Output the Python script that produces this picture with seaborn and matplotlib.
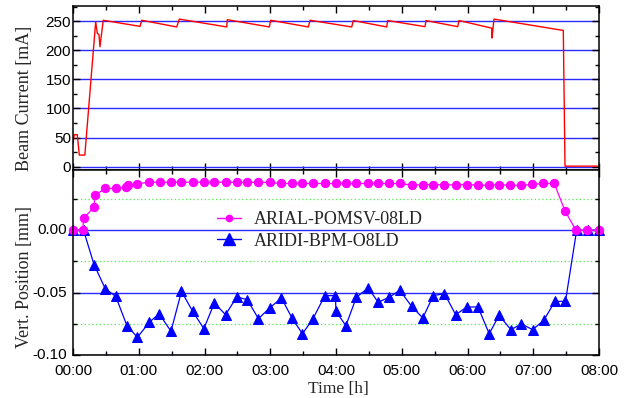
import matplotlib
matplotlib.use("Agg")
import matplotlib.pyplot as plt
import pandas as pd
import seaborn as sns
from matplotlib.ticker import MultipleLocator, FixedLocator, FixedFormatter
from matplotlib.lines import Line2D

# ---------------- data ----------------
hour_ticks = [0, 1, 2, 3, 4, 5, 6, 7, 8]
hour_labels = ["00:00", "01:00", "02:00", "03:00", "04:00",
               "05:00", "06:00", "07:00", "08:00"]

beam_t = [0.00, 0.02, 0.065, 0.096, 0.18, 0.345, 0.37, 0.395, 0.41, 0.46,
          1.02, 1.045, 1.577, 1.617, 2.338, 2.347, 2.986, 3.007, 3.579, 3.605,
          4.239, 4.263, 4.771, 4.786, 5.354, 5.369, 5.851, 5.871, 6.368, 6.372,
          6.403, 7.457, 7.483, 8.00]
beam_mA = [40, 55, 55, 20, 20, 249, 229, 227, 206, 251.5,
           241, 251.5, 240, 253.5, 240, 252.5, 240, 251.5, 240, 251.5,
           240, 251, 240, 251, 240.5, 251, 240.5, 251, 238, 221,
           253.5, 234, 1, 1]
current_ticks = [0, 50, 100, 150, 200, 250]

pomsv_t = [0.00, 0.15, 0.16, 0.32, 0.33, 0.49, 0.65, 0.81, 0.83, 0.98,
           1.15, 1.32, 1.49, 1.65, 1.82, 1.99, 2.15, 2.32, 2.49, 2.65,
           2.82, 2.99, 3.16, 3.33, 3.49, 3.65, 3.83, 4.00, 4.15, 4.31,
           4.49, 4.64, 4.81, 4.98, 5.15, 5.32, 5.48, 5.65, 5.82, 5.99,
           6.16, 6.32, 6.48, 6.65, 6.81, 6.98, 7.15, 7.32, 7.48, 7.65,
           7.82, 8.00]
pomsv_mm = [0.0, 0.0, 0.0095, 0.0185, 0.028, 0.0335, 0.0335, 0.0345, 0.036, 0.0372,
            0.0385, 0.0385, 0.0385, 0.0385, 0.0385, 0.0385, 0.0385, 0.0385, 0.0384, 0.0384,
            0.0384, 0.0384, 0.0375, 0.0375, 0.0375, 0.0375, 0.0375, 0.0375, 0.0375, 0.0375,
            0.0375, 0.0375, 0.0375, 0.0375, 0.0361, 0.0366, 0.0366, 0.0364, 0.0364, 0.0366,
            0.0361, 0.0361, 0.0366, 0.0359, 0.0361, 0.0367, 0.0375, 0.0375, 0.0158, 0.0,
            0.0, 0.0]

bpm_t = [0.00, 0.16, 0.32, 0.49, 0.65, 0.82, 0.98, 1.16, 1.31, 1.49,
         1.65, 1.82, 1.99, 2.15, 2.32, 2.49, 2.65, 2.82, 2.99, 3.17,
         3.33, 3.49, 3.65, 3.83, 3.99, 4.00, 4.15, 4.31, 4.49, 4.64,
         4.81, 4.97, 5.15, 5.32, 5.48, 5.65, 5.82, 5.99, 6.16, 6.33,
         6.48, 6.66, 6.82, 6.99, 7.16, 7.33, 7.49, 7.66, 7.83, 8.00]
bpm_mm = [0.0, 0.0, -0.0275, -0.0468, -0.053, -0.0765, -0.0858, -0.0738, -0.0669, -0.081,
          -0.049, -0.065, -0.0789, -0.0583, -0.0677, -0.0535, -0.0556, -0.0709, -0.0623, -0.0543,
          -0.0703, -0.083, -0.0709, -0.0524, -0.0524, -0.065, -0.0765, -0.0537, -0.0462, -0.0577,
          -0.0537, -0.0481, -0.061, -0.0703, -0.0524, -0.0508, -0.0677, -0.0615, -0.0615, -0.083,
          -0.0682, -0.0797, -0.0751, -0.0797, -0.0722, -0.057, -0.057, 0.0, 0.0, 0.0]

pos_ticks = [0.0, -0.05, -0.10]
pos_labels = ["0.00", "-0.05", "-0.10"]
series_names = ["ARIAL-POMSV-08LD", "ARIDI-BPM-O8LD"]

# ---------------- style ----------------
sns.set_style("ticks")
plt.rcParams["font.family"] = ["Liberation Sans", "DejaVu Sans"]
plt.rcParams["axes.unicode_minus"] = False
SERIF = ["Liberation Serif", "DejaVu Serif"]

fig = plt.figure(figsize=(6.31, 3.98), dpi=100)
ax1 = fig.add_axes([73 / 631, (398 - 169.5) / 398, 526 / 631, 163.5 / 398])
ax2 = fig.add_axes([73 / 631, (398 - 355) / 398, 526 / 631, 185.5 / 398])

beam_df = pd.DataFrame({"t": beam_t, "mA": beam_mA})
pomsv_df = pd.DataFrame({"t": pomsv_t, "mm": pomsv_mm})
bpm_df = pd.DataFrame({"t": bpm_t, "mm": bpm_mm})

# top panel
sns.lineplot(data=beam_df, x="t", y="mA", ax=ax1, color="#ff0000", lw=1.0,
             estimator=None, sort=False, legend=False, zorder=3)

# bottom panel
sns.lineplot(data=bpm_df, x="t", y="mm", ax=ax2, color="#0000ff", lw=0.9,
             marker="^", markersize=6.8, markeredgecolor="#0000ff",
             estimator=None, sort=False, legend=False, clip_on=False, zorder=3)
sns.lineplot(data=pomsv_df, x="t", y="mm", ax=ax2, color="#ff00ff", lw=0.9,
             marker="o", markersize=6.0, markeredgecolor="#ff00ff",
             estimator=None, sort=False, legend=False, clip_on=False, zorder=4)

for ax in (ax1, ax2):
    ax.set_xlim(0, 8)
    ax.xaxis.set_major_locator(FixedLocator(hour_ticks))
    ax.xaxis.set_minor_locator(MultipleLocator(0.5))
    ax.tick_params(axis="both", which="both", direction="in", top=True, right=True,
                   labelsize=11, width=1.0, color="black", labelcolor="black")
    ax.tick_params(which="major", length=5)
    ax.tick_params(which="minor", length=3)
    for s in ax.spines.values():
        s.set_linewidth(1.1)
        s.set_color("black")
        s.set_zorder(6)
    ax.set_axisbelow(True)

ax1.set_ylim(-4.8, 276)
ax1.yaxis.set_major_locator(FixedLocator(current_ticks))
ax1.yaxis.set_minor_locator(MultipleLocator(25))
ax1.tick_params(labelbottom=False)
ax1.tick_params(axis="y", pad=1.5)
ax1.yaxis.grid(True, which="major", color="#2a2aff", lw=1.0)
ax1.set_xlabel("")
ax1.set_ylabel("Beam Current [mA]", fontsize=13, family=SERIF)
ax1.yaxis.set_label_coords(-0.076, 0.434)

ax2.set_ylim(-0.10, 0.0487)
ax2.yaxis.set_major_locator(FixedLocator(pos_ticks))
ax2.yaxis.set_major_formatter(FixedFormatter(pos_labels))
ax2.yaxis.set_minor_locator(MultipleLocator(0.025))
ax2.xaxis.set_major_formatter(FixedFormatter(hour_labels))
ax2.tick_params(axis="y", pad=4.0)
ax2.tick_params(axis="x", pad=6.2)
for lab in ax2.get_yticklabels():
    lab.set_verticalalignment("center")
ax2.yaxis.grid(True, which="major", color="#2a2aff", lw=1.0)
ax2.yaxis.grid(True, which="minor", color="#55ee55", lw=0.9, ls=(0, (1, 2)))
ax2.set_ylabel("Vert. Position [mm]", fontsize=13, family=SERIF)
ax2.yaxis.set_label_coords(-0.076, 0.42)
ax2.set_xlabel("Time [h]", fontsize=12.5, family=SERIF)
ax2.xaxis.set_label_coords(0.505, -0.138)

handles = [
    Line2D([], [], color="#ff00ff", lw=1.0, marker="o", markersize=4.5,
           markeredgecolor="#ff00ff"),
    Line2D([], [], color="#0000ff", lw=1.0, marker="^", markersize=8,
           markeredgecolor="#0000ff"),
]
ax2.legend(handles, series_names, loc="upper left",
           bbox_to_anchor=(0.274, 0.775), frameon=False, borderpad=0,
           borderaxespad=0, handlelength=1.35, handletextpad=0.7,
           labelspacing=0.25, prop={"family": SERIF, "size": 13})

fig.savefig("out.png", dpi=100)
